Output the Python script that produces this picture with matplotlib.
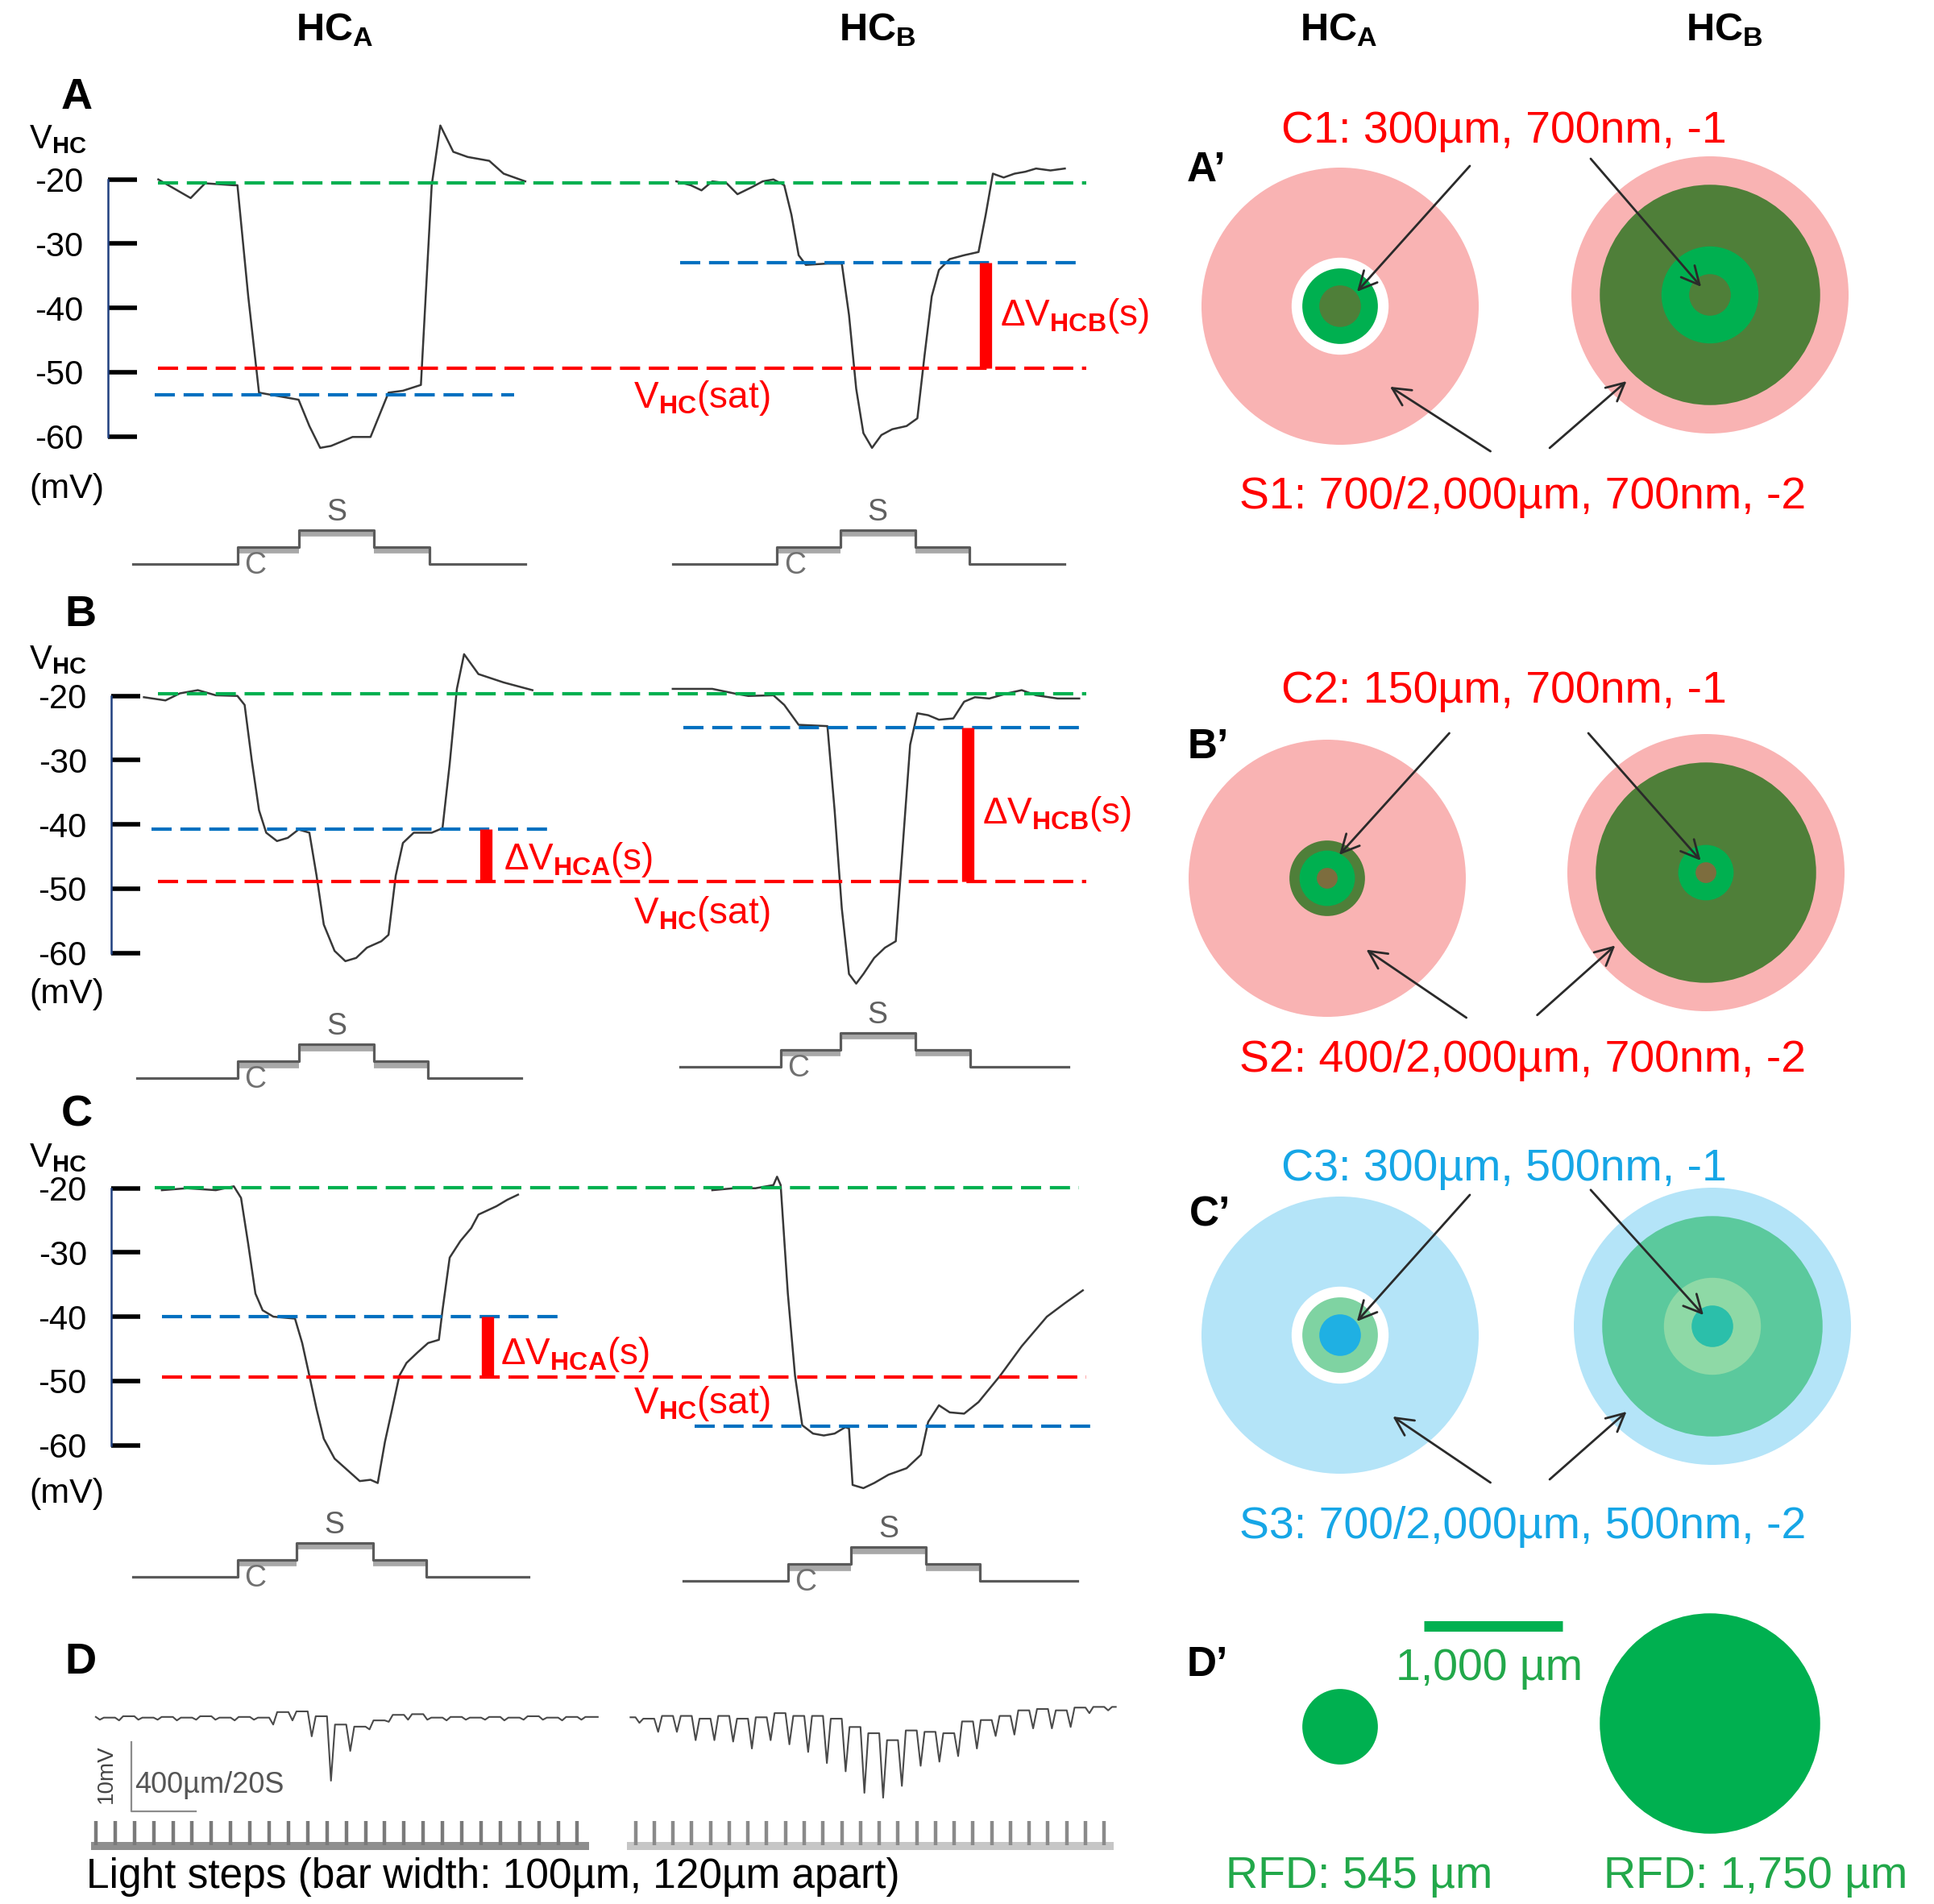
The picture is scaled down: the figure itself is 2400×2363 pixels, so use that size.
import numpy as np
import matplotlib
matplotlib.use('Agg')
import matplotlib.pyplot as plt
from matplotlib import font_manager
from matplotlib.patches import Circle

W, H = 2400, 2363

# ---------------- traces A-C (time in arbitrary units, V in mV) ----------------
a_hca_t = [220, 265, 285, 325, 330, 345, 360, 400, 415, 430, 445, 460, 490, 515, 540, 560, 585, 600, 612, 630, 650, 680, 700, 730]
a_hca_v = [-20.0, -22.9, -20.6, -20.9, -20.9, -38.2, -53.2, -54.0, -54.3, -58.4, -61.8, -61.5, -60.1, -60.1, -53.2, -52.9,
           -52.0, -20.9, -11.6, -15.7, -16.5, -17.1, -19.1, -20.3]
a_hcb_t = [940, 960, 975, 990, 1010, 1025, 1045, 1060, 1075, 1090, 1100, 1110, 1120, 1150, 1170, 1180, 1190, 1200, 1212,
           1225, 1240, 1260, 1275, 1285, 1295, 1305, 1320, 1340, 1360, 1370, 1380, 1395, 1410, 1425, 1440, 1460, 1480]
a_hcb_v = [-20.3, -20.9, -21.7, -20.3, -20.6, -22.3, -21.2, -20.3, -20.0, -20.9, -25.5, -31.8, -33.3, -33.1, -33.1, -41.1,
           -52.6, -59.5, -61.8, -59.8, -58.9, -58.4, -57.2, -47.4, -38.2, -34.1, -32.4, -31.8, -31.3, -25.5, -19.1, -19.7,
           -19.1, -18.8, -18.3, -18.6, -18.3]

b_hca_t = [200, 230, 250, 275, 300, 330, 340, 350, 360, 370, 385, 400, 415, 430, 440, 450, 465, 480, 495, 510, 530, 540,
           550, 560, 575, 600, 615, 625, 635, 645, 665, 700, 740]
b_hca_v = [-20.2, -20.7, -19.6, -19.1, -19.9, -20.0, -21.4, -30.1, -37.8, -41.3, -42.6, -42.1, -40.8, -41.3, -48.0, -55.6,
           -59.7, -61.3, -60.8, -59.2, -58.2, -57.2, -48.0, -42.9, -41.3, -41.3, -40.6, -30.6, -18.9, -13.5, -16.6, -17.9, -19.1]
b_hcb_t = [935, 990, 1020, 1040, 1075, 1090, 1110, 1150, 1160, 1170, 1180, 1190, 1200, 1215, 1230, 1245, 1255, 1265, 1275,
           1290, 1305, 1325, 1340, 1355, 1375, 1400, 1420, 1440, 1470, 1500]
b_hcb_v = [-18.9, -18.9, -19.6, -20.0, -19.9, -21.4, -24.5, -24.7, -37.8, -53.1, -63.3, -64.8, -63.3, -60.8, -59.2, -58.2,
           -42.9, -27.6, -22.7, -23.0, -23.7, -23.5, -20.9, -20.2, -20.4, -19.6, -19.1, -19.9, -20.4, -20.4]

c_hca_t = [225, 260, 300, 325, 335, 345, 355, 365, 380, 410, 420, 430, 440, 450, 465, 485, 500, 515, 525, 535, 545, 555,
           565, 580, 595, 610, 615, 625, 640, 655, 665, 690, 705, 720]
c_hca_v = [-20.3, -20.0, -20.3, -19.7, -21.5, -28.7, -36.4, -39.0, -40.0, -40.3, -44.1, -49.2, -54.4, -59.0, -62.1, -64.1,
           -65.6, -65.4, -65.9, -59.5, -54.4, -49.2, -47.2, -45.6, -44.1, -43.6, -39.0, -30.8, -28.2, -26.2, -24.1, -22.8,
           -21.8, -21.0]
c_hcb_t = [990, 1020, 1050, 1075, 1080, 1085, 1095, 1105, 1115, 1130, 1145, 1160, 1175, 1180, 1185, 1200, 1215, 1235, 1260,
           1280, 1290, 1305, 1320, 1340, 1360, 1390, 1420, 1455, 1480, 1505]
c_hcb_v = [-20.3, -20.0, -20.0, -19.5, -18.2, -19.5, -36.4, -49.2, -56.9, -58.2, -58.5, -58.2, -57.2, -57.4, -66.2, -66.7,
           -65.9, -64.6, -63.6, -61.5, -56.4, -53.8, -54.9, -55.1, -53.3, -49.2, -44.6, -40.0, -37.9, -35.9]

# dashed reference levels: [dark level, V_HC(sat), HC_A response to C, HC_B response to C]
a_levels = [-20.5, -49.4, -53.6, -32.9]
b_levels = [-19.6, -48.9, -40.7, -24.9]
c_levels = [-19.9, -49.4, -40.0, -57.0]

# stimulus protocol edges: start, C on, S on, S off, C off, end
a_stim_hca = [185, 330, 415, 520, 597, 730]
a_stim_hcb = [935, 1080, 1168, 1272, 1347, 1480]
b_stim_hca = [190, 330, 415, 520, 595, 725]
b_stim_hcb = [945, 1085, 1168, 1272, 1348, 1485]
c_stim_hca = [185, 330, 412, 518, 592, 735]
c_stim_hcb = [950, 1095, 1183, 1287, 1362, 1497]
stim_levels = [0, 1, 2, 1, 0, 0]

# ---------------- panel D: responses to light bars (mV) ----------------
light_bar_um = 120
n_light_bars = 26
d_hca_top = [0.1, 0.0, 0.2, 0.0, 0.1, 0.0, 0.2, 0.0, 0.1, 0.0, 0.8, 0.9, 0.2, -1.0, -1.3, -0.4, 0.4, 0.5, 0.0, 0.1,
             0.0, 0.1, 0.0, 0.2, 0.0, 0.1]
d_hca_dip = [-0.3, -0.4, -0.3, -0.3, -0.4, -0.3, -0.3, -0.4, -0.3, -1.0, -0.4, -2.7, -9.1, -4.8, -1.7, -0.6, -0.3, -0.3,
             -0.4, -0.3, -0.3, -0.4, -0.3, -0.3, -0.4, -0.3]
d_hcb_top = [0.2, 0.0, 0.4, 0.4, 0.0, 0.4, 0.0, 0.2, 0.8, 0.4, 0.4, 0.0, -1.2, -2.1, -3.1, -1.7, -1.9, -2.1, -0.4, -0.2,
             0.4, 1.2, 1.4, 1.2, 1.6, 1.7]
d_hcb_dip = [-0.6, -1.9, -1.9, -3.1, -3.1, -3.3, -4.3, -3.1, -3.7, -4.8, -6.4, -7.6, -10.7, -11.4, -9.7, -6.8, -6.2, -5.4,
             -4.3, -2.5, -2.3, -1.4, -1.4, -1.2, 0.8, 1.2]

# ---------------- panels A'-D': diameters in µm ----------------
a_hca_diam = [2000, 700, 545, 300]
a_hcb_diam = [2000, 1590, 700, 300]
b_hca_diam = [2000, 545, 400, 150]
b_hcb_diam = [2000, 1590, 400, 150]
c_hca_diam = [2000, 700, 545, 300]
c_hcb_diam = [2000, 1590, 700, 300]
rf_diam = [545, 1590]
rfd_labels = ['RFD: 545 µm', 'RFD: 1,750 µm']
scale_bar_um = 1000

a_labels = ['C1: 300µm, 700nm, -1', 'S1: 700/2,000µm, 700nm, -2']
b_labels = ['C2: 150µm, 700nm, -1', 'S2: 400/2,000µm, 700nm, -2']
c_labels = ['C3: 300µm, 500nm, -1', 'S3: 700/2,000µm, 500nm, -2']

# ---------------- style ----------------
RED = '#ff0000'
GREEN = '#00b050'
BLUE = '#0070c0'
SKY = '#16a6e6'
TXT_GREEN = '#22a84a'
TRACE = '#383838'
DASH = (0, (6, 2.6))
PINK = '#f9b3b3'
LBLUE = '#b4e4f8'
DGREEN = '#4f7f39'
BROWN = '#7d6d3e'


def pick_font(names):
    for n in names:
        try:
            font_manager.findfont(n, fallback_to_default=False)
            return n
        except ValueError:
            pass
    return 'DejaVu Sans'


FONT = pick_font(['Liberation Sans', 'Arimo'])
plt.rcParams['font.family'] = [FONT, 'DejaVu Sans']
plt.rcParams['mathtext.fontset'] = 'custom'
plt.rcParams['mathtext.rm'] = FONT
plt.rcParams['mathtext.bf'] = FONT + ':bold'
plt.rcParams['mathtext.it'] = FONT + ':italic'
plt.rcParams['axes.unicode_minus'] = False

fig = plt.figure(figsize=(W / 100, H / 100), dpi=100)


def px_box(x0, y0, x1, y1):
    return [x0 / W, 1 - y1 / H, (x1 - x0) / W, (y1 - y0) / H]


def text_px(x, y, s, **kw):
    kw.setdefault('va', 'baseline')
    fig.text(x / W, 1 - y / H, s, **kw)


K = 7.97          # px per mV in rows A-C
T_SPAN = 1600     # time units across 1428.6 px


def trace_row(y20, spine_t, traces, levels, spans, bars, labels):
    ax = fig.add_axes(px_box(0, y20 - 15 * K, T_SPAN / 1.12, y20 + 52 * K))
    ax.set_xlim(0, T_SPAN)
    ax.set_ylim(-72, -5)
    ax.patch.set_visible(False)
    for s in ['top', 'right', 'bottom']:
        ax.spines[s].set_visible(False)
    ax.xaxis.set_visible(False)
    ax.spines['left'].set_position(('data', spine_t))
    ax.spines['left'].set_bounds(-60, -20)
    ax.spines['left'].set_color('#1f3f7f')
    ax.spines['left'].set_linewidth(1.8)
    ax.set_yticks([-20, -30, -40, -50, -60])
    ax.tick_params(axis='y', direction='in', length=25.6, width=4, pad=22, labelsize=30, colors='black')

    for t, v in traces:
        ax.plot(t, v, color=TRACE, lw=1.8, zorder=2)

    colors = [GREEN, RED, BLUE, BLUE]
    for lev, (x0, x1), c in zip(levels, spans, colors):
        ax.plot([x0, x1], [lev, lev], color=c, lw=3, ls=DASH, zorder=3)

    for t, which in bars:
        top = levels[2] if which == 'A' else levels[3]
        ax.plot([t, t], [top, levels[1]], color=RED, lw=11, solid_capstyle='butt', zorder=4)

    for s, t, v in labels:
        ax.text(t, v, s, color=RED, fontsize=33, va='baseline', ha='left', zorder=5)
    return ax


def stim_panel(edges, base_px, s_x, c_x):
    u = 21.0
    ax = fig.add_axes(px_box(0, base_px - 4 * u, T_SPAN / 1.12, base_px + 0.6 * u))
    ax.set_xlim(0, T_SPAN)
    ax.set_ylim(-0.6, 4)
    ax.set_axis_off()
    ax.step(edges, stim_levels, where='post', color='#5a5a5a', lw=2.3, zorder=3)
    for (x0, x1), lev in zip(zip(edges[1:4], edges[2:5]), stim_levels[1:4]):
        ax.plot([x0, x1], [lev - 0.2, lev - 0.2], color='#a8a8a8', lw=5.5, solid_capstyle='butt', zorder=2)
    ax.text(s_x, 3.05, 'S', color='#606060', fontsize=27, ha='center', va='center')
    ax.text(c_x, -0.1, 'C', color='#707070', fontsize=27, ha='center', va='center', clip_on=True)


# ---------------- rows A, B, C ----------------
rows = [
    dict(y20=222.7, spine=150, traces=[(a_hca_t, a_hca_v), (a_hcb_t, a_hcb_v)], levels=a_levels,
         spans=[(220, 1510), (220, 1510), (215, 715), (945, 1495)], bars=[(1370, 'B')],
         labels=[(r'ΔV$_{\mathbf{HCB}}$(s)', 1390, -42.8), (r'V$_{\mathbf{HC}}$(sat)', 880, -55.5)],
         stims=[(a_stim_hca, 700.0), (a_stim_hcb, 700.0)], vlab=184, mv=607, letter=('A', 76, 135)),
    dict(y20=863.7, spine=155, traces=[(b_hca_t, b_hca_v), (b_hcb_t, b_hcb_v)], levels=b_levels,
         spans=[(220, 1510), (220, 1510), (210, 765), (950, 1500)], bars=[(675, 'A'), (1345, 'B')],
         labels=[(r'ΔV$_{\mathbf{HCA}}$(s)', 700, -47.0), (r'ΔV$_{\mathbf{HCB}}$(s)', 1365, -39.8),
                 (r'V$_{\mathbf{HC}}$(sat)', 880, -55.4)],
         stims=[(b_stim_hca, 1338.4), (b_stim_hcb, 1324.0)], vlab=830, mv=1234, letter=('B', 80, 777)),
    dict(y20=1474.7, spine=155, traces=[(c_hca_t, c_hca_v), (c_hcb_t, c_hcb_v)], levels=c_levels,
         spans=[(215, 1500), (225, 1510), (225, 775), (965, 1515)], bars=[(678, 'A')],
         labels=[(r'ΔV$_{\mathbf{HCA}}$(s)', 695, -47.4), (r'V$_{\mathbf{HC}}$(sat)', 880, -55.1)],
         stims=[(c_stim_hca, 1957.1), (c_stim_hcb, 1962.4)], vlab=1448, mv=1854, letter=('C', 76, 1397)),
]

for r in rows:
    trace_row(r['y20'], r['spine'], r['traces'], r['levels'], r['spans'], r['bars'], r['labels'])
    for edges, base in r['stims']:
        stim_panel(edges, base, (edges[2] + edges[3]) / 2, edges[1] + 25)
    text_px(36, r['vlab'], r'V$_{\mathbf{HC}}$', fontsize=30)
    text_px(36, r['mv'], '(mV)', fontsize=31, va='center')
    name, lx, ly = r['letter']
    text_px(lx, ly, name, fontsize=39, fontweight='bold')

# ---------------- row D ----------------
MV = 8.6
bars_um = light_bar_um * np.arange(n_light_bars)


def light_trace(x0_px, sc, base_px, tops, dips, x_start, x_end, band_col, tick_col, band_lim):
    ax = fig.add_axes(px_box(x0_px - 100 * sc, base_px - 3 * MV, x0_px + 3200 * sc, base_px + 15 * MV))
    ax.set_xlim(-100, 3200)
    ax.set_ylim(-15, 3)
    ax.set_axis_off()
    xs, ys = [x_start], [tops[0]]
    for k, b in enumerate(bars_um):
        nxt = tops[k + 1] if k + 1 < len(tops) else tops[k]
        xs += [b, b + 25, b + 50]
        ys += [tops[k], dips[k], nxt]
    xs.append(x_end)
    ys.append(tops[-1])
    ax.plot(xs, ys, color='#4a4a4a', lw=1.5)

    lx = fig.add_axes(px_box(x0_px - 100 * sc, 2255, x0_px + 3200 * sc, 2300))
    lx.set_xlim(-100, 3200)
    lx.set_ylim(0, 1)
    lx.set_axis_off()
    lx.fill_between(band_lim, 0.08, 0.32, color=band_col, lw=0)
    lx.vlines(bars_um, 0.22, 0.9, color=tick_col, lw=3.2)
    return ax


axd = light_trace(118.9, 0.1992, 2131.7, d_hca_top, d_hca_dip, 0, 3127, '#8e8e8e', '#7a7a7a', [-32, 3074])
light_trace(788.6, 0.1939, 2133.0, d_hcb_top, d_hcb_dip, -32, 3074, '#c6c6c6', '#8a8a8a', [-55, 3060])
axd.plot([221, 221, 621], [-3.5, -13.5, -13.5], color='#8c8c8c', lw=1.6)
axd.text(63, -8.1, '10mV', rotation=90, ha='center', va='center', fontsize=20, color='#444444')
axd.text(241, -9.7, '400µm/20S', ha='left', va='center', fontsize=26, color='#555555')
text_px(80, 2077, 'D', fontsize=39, fontweight='bold')
text_px(107, 2343, 'Light steps (bar width: 100µm, 120µm apart)', fontsize=37)

# ---------------- circle panels ----------------
S = 0.172  # px per µm


def circle_axes(cx_a, cy_a, cx_b, cy_b):
    ax = fig.add_axes(px_box(1440, cy_a - 290, 2400, cy_a + 290))
    ax.set_xlim((1440 - cx_a) / S, (2400 - cx_a) / S)
    ax.set_ylim(-290 / S, 290 / S)
    ax.set_axis_off()
    return ax, ((cx_b - cx_a) / S, (cy_a - cy_b) / S)


def discs(ax, center, diams, colors):
    for d, c in zip(diams, colors):
        ax.add_patch(Circle(center, d / 2, facecolor=c, edgecolor='none'))


circ_rows = [
    dict(ca=(1663, 380), cb=(2122, 366), da=a_hca_diam, db=a_hcb_diam,
         cola=[PINK, 'white', GREEN, DGREEN], colb=[PINK, DGREEN, GREEN, DGREEN],
         arrows=[((936, 1012), (122, 105)), ((1808, 1064), (2605, 140)),
                 ((1085, -1047), (360, -581)), ((1512, -1023), (2067, -541))],
         labels=a_labels, lab_y=(177, 631), tcol=RED, letter=("A\u2019", 1473, 225)),
    dict(ca=(1647, 1090), cb=(2117, 1083), da=b_hca_diam, db=b_hcb_diam,
         cola=[PINK, DGREEN, GREEN, BROWN], colb=[PINK, DGREEN, GREEN, BROWN],
         arrows=[((881, 1047), (87, 169)), ((1884, 1047), (2695, 128)),
                 ((1004, -1006), (282, -515)), ((1515, -987), (2078, -485))],
         labels=b_labels, lab_y=(872, 1330), tcol=RED, letter=("B\u2019", 1474, 941)),
    dict(ca=(1663, 1657), cb=(2125, 1646), da=c_hca_diam, db=c_hcb_diam,
         cola=[LBLUE, 'white', '#7fd3a2', '#1fb0e3'], colb=[LBLUE, '#5bc99d', '#8ed9a6', '#2bbfaa'],
         arrows=[((936, 1012), (121, 99)), ((1808, 1048), (2622, 145)),
                 ((1085, -1064), (380, -587)), ((1512, -1041), (2067, -552))],
         labels=c_labels, lab_y=(1465, 1909), tcol=SKY, letter=("C\u2019", 1476, 1522)),
]

for r in circ_rows:
    ax, off_b = circle_axes(r['ca'][0], r['ca'][1], r['cb'][0], r['cb'][1])
    discs(ax, (0, 0), r['da'], r['cola'])
    discs(ax, off_b, r['db'], r['colb'])
    for tail, head in r['arrows']:
        ax.annotate('', xy=head, xytext=tail,
                    arrowprops=dict(arrowstyle='->', lw=2.0, color='#2a2a2a', mutation_scale=40,
                                    shrinkA=0, shrinkB=0))
    text_px(1866, r['lab_y'][0], r['labels'][0], fontsize=40, color=r['tcol'], ha='center')
    text_px(1890, r['lab_y'][1], r['labels'][1], fontsize=40, color=r['tcol'], ha='center')
    name, lx, ly = r['letter']
    text_px(lx, ly, name, fontsize=37, fontweight='bold')

# D' : receptive field sizes
axr, off = circle_axes(1663, 2143, 2122, 2139)
axr.add_patch(Circle((0, 0), rf_diam[0] / 2, facecolor=GREEN, edgecolor='none'))
axr.add_patch(Circle(off, rf_diam[1] / 2, facecolor=GREEN, edgecolor='none'))
axr.plot([603, 603 + scale_bar_um], [727, 727], color=GREEN, lw=9.4, solid_capstyle='butt')
text_px(1848, 2085, '1,000 µm', fontsize=40, color=TXT_GREEN, ha='center')
text_px(1521, 2343, rfd_labels[0], fontsize=40, color=TXT_GREEN)
text_px(1990, 2343, rfd_labels[1], fontsize=40, color=TXT_GREEN)
text_px(1473, 2080, "D\u2019", fontsize=37, fontweight='bold')

# ---------------- column titles ----------------
for x, sub in [(415, 'A'), (1089, 'B'), (1661, 'A'), (2140, 'B')]:
    text_px(x, 50, r'HC$_{\mathbf{%s}}$' % sub, fontsize=35, fontweight='bold', ha='center')

fig.savefig('out.png', dpi=100)
